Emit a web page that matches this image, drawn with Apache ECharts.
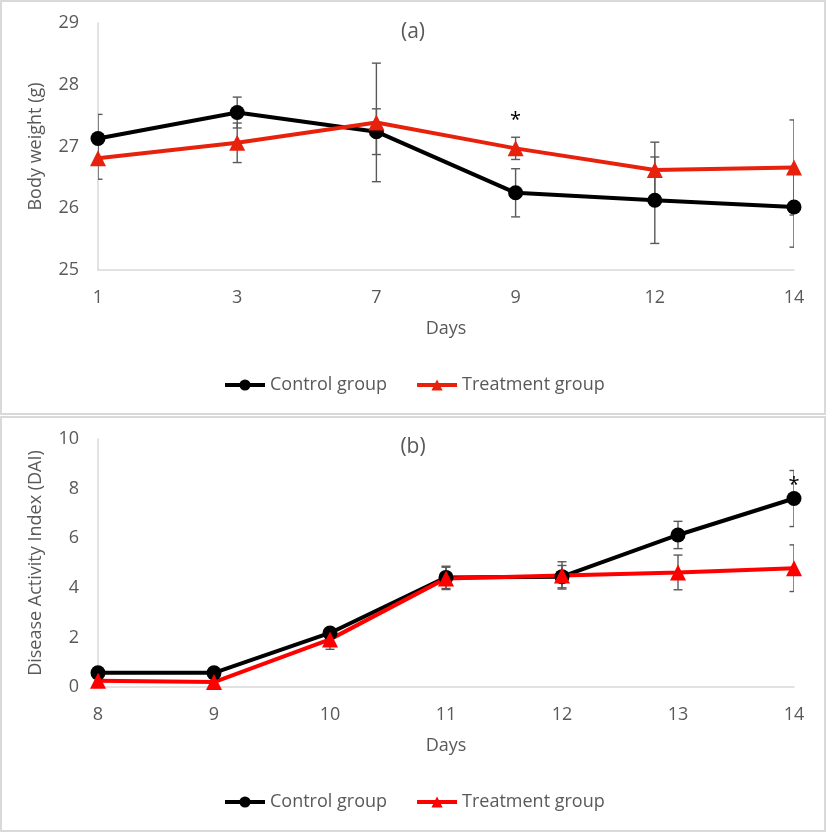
<!DOCTYPE html>
<html>
<head>
<meta charset="utf-8">
<script src="https://cdn.jsdelivr.net/npm/echarts@6/dist/echarts.min.js"></script>
<style>
html,body{margin:0;padding:0;background:#fff;}
#chart{width:827px;height:833px;}
</style>
</head>
<body>
<div id="chart"></div>
<script>
// ---------- Data ----------
var daysA = ['1', '3', '7', '9', '12', '14'];
var controlA = [27.13, 27.55, 27.24, 26.25, 26.13, 26.02];
var treatA   = [26.81, 27.06, 27.39, 26.97, 26.62, 26.66];
var controlA_sd = [0.39, 0.25, 0.37, 0.39, 0.70, 0.65];
var treatA_sd   = [0.34, 0.32, 0.96, 0.18, 0.45, 0.77];
var sigA = [['9', 27.42]];

var daysB = ['8', '9', '10', '11', '12', '13', '14'];
var controlB = [0.57, 0.57, 2.18, 4.42, 4.45, 6.13, 7.60];
var treatB   = [0.25, 0.20, 1.92, 4.38, 4.50, 4.62, 4.79];
var controlB_sd = [0, 0, 0.20, 0.45, 0.45, 0.55, 1.13];
var treatB_sd   = [0, 0, 0.40, 0.45, 0.55, 0.70, 0.94];
var sigB = [['14', 8.15]];

var yTicksA = {min: 25, max: 29, interval: 1};
var yTicksB = {min: 0, max: 10, interval: 2};

// ---------- Styles ----------
var FONT = 'Open Sans';
var GRAY = '#595959';
var AXIS = '#d9d9d9';
var RED_A = '#E8210C';
var RED_B = '#FF0000';

function errData(vals, sds) {
  return vals.map(function (v, i) { return [i, v, sds[i]]; });
}
function errSeries(xi, yi, vals, sds) {
  return {
    type: 'custom', xAxisIndex: xi, yAxisIndex: yi, z: 1, silent: true, clip: true,
    data: errData(vals, sds),
    encode: {x: 0, y: 1},
    renderItem: function (params, api) {
      var x = api.value(0), v = api.value(1), s = api.value(2);
      if (!s) return null;
      var t = api.coord([x, v + s]);
      var b = api.coord([x, v - s]);
      var w = 4.5;
      var st = {stroke: GRAY, lineWidth: 1.4};
      return {
        type: 'group',
        children: [
          {type: 'line', shape: {x1: t[0], y1: t[1], x2: b[0], y2: b[1]}, style: st},
          {type: 'line', shape: {x1: t[0] - w, y1: t[1], x2: t[0] + w, y2: t[1]}, style: st},
          {type: 'line', shape: {x1: b[0] - w, y1: b[1], x2: b[0] + w, y2: b[1]}, style: st}
        ]
      };
    }
  };
}
function sigSeries(xi, yi, data) {
  return {
    type: 'custom', xAxisIndex: xi, yAxisIndex: yi, z: 5, silent: true,
    data: data, encode: {x: 0, y: 1},
    renderItem: function (params, api) {
      var p = api.coord([api.value(0), api.value(1)]);
      return {type: 'text', x: p[0], y: p[1],
        style: {text: '*', fill: '#000', font: '20px "' + FONT + '"', align: 'center', verticalAlign: 'middle'}};
    }
  };
}
function lineSeries(name, xi, yi, data, color, symbol, size) {
  return {
    name: name, type: 'line', xAxisIndex: xi, yAxisIndex: yi, z: 3,
    data: data, symbol: symbol, symbolSize: size, showSymbol: true,
    lineStyle: {color: color, width: 4},
    itemStyle: {color: color, borderWidth: 0},
    emphasis: {disabled: true}
  };
}
function xAxisCfg(grid, cats) {
  return {
    type: 'category', gridIndex: grid, data: cats, boundaryGap: false,
    name: 'Days', nameLocation: 'middle', nameGap: 50,
    nameTextStyle: {fontFamily: FONT, fontSize: 18, color: GRAY},
    axisLine: {lineStyle: {color: AXIS, width: 1.5}},
    axisTick: {show: false},
    axisLabel: {fontFamily: FONT, fontSize: 18, color: GRAY, margin: 19},
    splitLine: {show: false}
  };
}
function yAxisCfg(grid, name, ticks) {
  return {
    type: 'value', gridIndex: grid, min: ticks.min, max: ticks.max, interval: ticks.interval,
    name: name, nameLocation: 'middle', nameGap: 53,
    nameTextStyle: {fontFamily: FONT, fontSize: 18, color: GRAY},
    axisLine: {show: true, lineStyle: {color: AXIS, width: 1.5}},
    axisTick: {show: false},
    axisLabel: {fontFamily: FONT, fontSize: 18, color: GRAY, margin: 19},
    splitLine: {show: false}
  };
}
function legendCfg(top, red) {
  return {
    top: top, left: 223, itemWidth: 40, itemHeight: 14, itemGap: 28, padding: 0,
    textStyle: {fontFamily: FONT, fontSize: 18, color: GRAY},
    selectedMode: false,
    data: [
      {name: 'Control group', itemStyle: {color: '#000'}, lineStyle: {color: '#000', width: 4}},
      {name: 'Treatment group', itemStyle: {color: red}, lineStyle: {color: red, width: 4}}
    ]
  };
}

var chart = echarts.init(document.getElementById('chart'), null, {renderer: 'canvas'});
chart.setOption({
  backgroundColor: '#fff',
  animation: false,
  textStyle: {fontFamily: FONT},
  graphic: [
    {type: 'rect', shape: {x: 1, y: 1, width: 824, height: 413}, style: {fill: 'none', stroke: AXIS, lineWidth: 2}, z: -1},
    {type: 'rect', shape: {x: 1, y: 417, width: 824, height: 414}, style: {fill: 'none', stroke: AXIS, lineWidth: 2}, z: -1},
    {type: 'text', x: 413, y: 32, style: {text: '(a)', font: '21px "' + FONT + '"', fill: GRAY, align: 'center', verticalAlign: 'middle'}},
    {type: 'text', x: 413, y: 447, style: {text: '(b)', font: '21px "' + FONT + '"', fill: GRAY, align: 'center', verticalAlign: 'middle'}}
  ],
  grid: [
    {left: 98, right: 33, top: 23, height: 247},
    {left: 98, right: 33, top: 439, height: 248}
  ],
  legend: [legendCfg(376, RED_A), legendCfg(793, RED_B)],
  xAxis: [xAxisCfg(0, daysA), xAxisCfg(1, daysB)],
  yAxis: [yAxisCfg(0, 'Body weight (g)', yTicksA), yAxisCfg(1, 'Disease Activity Index (DAI)', yTicksB)],
  series: [
    errSeries(0, 0, controlA, controlA_sd),
    errSeries(0, 0, treatA, treatA_sd),
    lineSeries('Control group', 0, 0, controlA, '#000', 'circle', 15),
    lineSeries('Treatment group', 0, 0, treatA, RED_A, 'triangle', 16),
    sigSeries(0, 0, sigA),
    errSeries(1, 1, controlB, controlB_sd),
    errSeries(1, 1, treatB, treatB_sd),
    lineSeries('Control group', 1, 1, controlB, '#000', 'circle', 15),
    lineSeries('Treatment group', 1, 1, treatB, RED_B, 'triangle', 16),
    sigSeries(1, 1, sigB)
  ]
});
</script>
</body>
</html>
